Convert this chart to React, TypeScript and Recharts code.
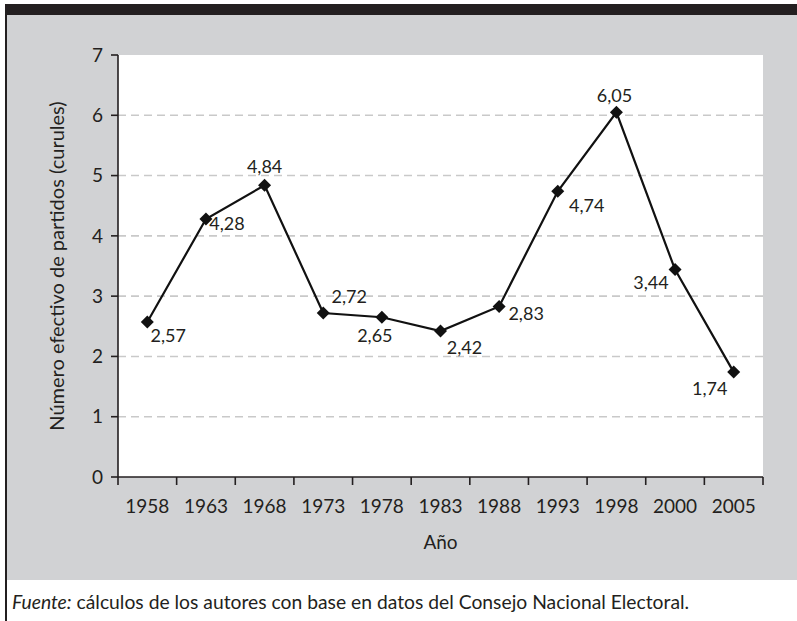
import React from "react";
import {
  LineChart,
  Line,
  XAxis,
  YAxis,
  CartesianGrid,
  LabelList,
} from "recharts";

const years = ["1958", "1963", "1968", "1973", "1978", "1983", "1988", "1993", "1998", "2000", "2005"];
const nep = [2.57, 4.28, 4.84, 2.72, 2.65, 2.42, 2.83, 4.74, 6.05, 3.44, 1.74];
const yTicks = [0, 1, 2, 3, 4, 5, 6, 7];
const gridValues = [1, 2, 3, 4, 5, 6];
// where each value label sits relative to its marker [dx, dy]
const labelOffsets: [number, number][] = [
  [21, 14], [21, 5], [0, -19], [26, -16], [-7, 18], [24, 17],
  [27, 7], [29, 14], [-2, -17], [-24, 13], [-24, 17],
];

const data = years.map((year, i) => ({ idx: i, year, value: nep[i] }));
// ticks at category centres (labels) and at category edges (tick marks)
const xTicks: number[] = [];
for (let i = 0; i <= years.length * 2; i++) xTicks.push(i / 2 - 0.5);

const FONT = '"Lato", "Open Sans", sans-serif';
const INK = "#231f20";

function fmt(v: number) {
  return v.toFixed(2).replace(".", ",");
}

function XTick(props: any) {
  const { x, y, payload } = props;
  const v = payload.value as number;
  if (Number.isInteger(v)) {
    return (
      <text x={x} y={y + 36} textAnchor="middle" fill={INK} fontSize={19} fontFamily={FONT}>
        {years[v]}
      </text>
    );
  }
  return <line x1={x} y1={y} x2={x} y2={y + 8} stroke={INK} strokeWidth={1.6} />;
}

function Diamond(props: any) {
  const { cx, cy } = props;
  if (cx == null || cy == null) return null;
  const r = 6.5;
  return (
    <polygon
      points={`${cx},${cy - r} ${cx + r},${cy} ${cx},${cy + r} ${cx - r},${cy}`}
      fill="#111"
    />
  );
}

function ValueLabel(props: any) {
  const { x, y, value, index } = props;
  const [dx, dy] = labelOffsets[index];
  return (
    <text
      x={x + dx}
      y={y + dy}
      dy="0.35em"
      textAnchor="middle"
      fill={INK}
      fontSize={18}
      fontFamily={FONT}
    >
      {fmt(value)}
    </text>
  );
}

export default function App() {
  return (
    <div
      style={{
        position: "absolute",
        left: 0,
        top: 0,
        width: 797,
        height: 621,
        background: "#fff",
        overflow: "hidden",
        fontFamily: FONT,
      }}
    >
      <div style={{ position: "absolute", left: 5, top: 4, right: 0, height: 11, background: INK }} />
      <div style={{ position: "absolute", left: 5, top: 4, width: 1.5, bottom: 0, background: INK }} />
      <div style={{ position: "absolute", left: 6.5, top: 15, right: 0, height: 565, background: "#d1d2d4" }} />
      <div style={{ position: "absolute", left: 0, top: 0 }}>
        <LineChart width={797} height={580} data={data} margin={{ top: 55, right: 34, bottom: 23, left: 0 }}>
          <CartesianGrid
            vertical={false}
            horizontalValues={gridValues}
            stroke="#c9c9c9"
            strokeWidth={1.6}
            strokeDasharray="8 5"
            fill="#fff"
          />
          <XAxis
            dataKey="idx"
            type="number"
            domain={[-0.5, years.length - 0.5]}
            ticks={xTicks}
            interval={0}
            tickSize={0}
            tickMargin={0}
            tickLine={false}
            tick={<XTick />}
            axisLine={{ stroke: INK, strokeWidth: 1.6 }}
            height={80}
            label={{ value: "Año", position: "insideBottom", offset: 8, fill: INK, fontSize: 19, fontFamily: FONT }}
          />
          <YAxis
            domain={[0, 7]}
            ticks={yTicks}
            interval={0}
            width={118}
            tickSize={7}
            tickMargin={8}
            tickLine={{ stroke: INK, strokeWidth: 1.6 }}
            axisLine={{ stroke: INK, strokeWidth: 1.6 }}
            tick={{ fill: INK, fontSize: 19, fontFamily: FONT }}
            label={{
              value: "Número efectivo de partidos (curules)",
              angle: -90,
              position: "insideLeft",
              offset: 57,
              fill: INK,
              fontSize: 20,
              fontFamily: FONT,
              style: { textAnchor: "middle" },
            }}
          />
          <Line
            dataKey="value"
            stroke="#111"
            strokeWidth={2.2}
            dot={<Diamond />}
            activeDot={false}
            isAnimationActive={false}
          >
            <LabelList dataKey="value" content={<ValueLabel />} />
          </Line>
        </LineChart>
      </div>
      <div
        style={{
          position: "absolute",
          left: 12,
          top: 590,
          fontSize: 19.3,
          color: INK,
          whiteSpace: "nowrap",
        }}
      >
        <i>Fuente:</i> cálculos de los autores con base en datos del Consejo Nacional Electoral.
      </div>
    </div>
  );
}
